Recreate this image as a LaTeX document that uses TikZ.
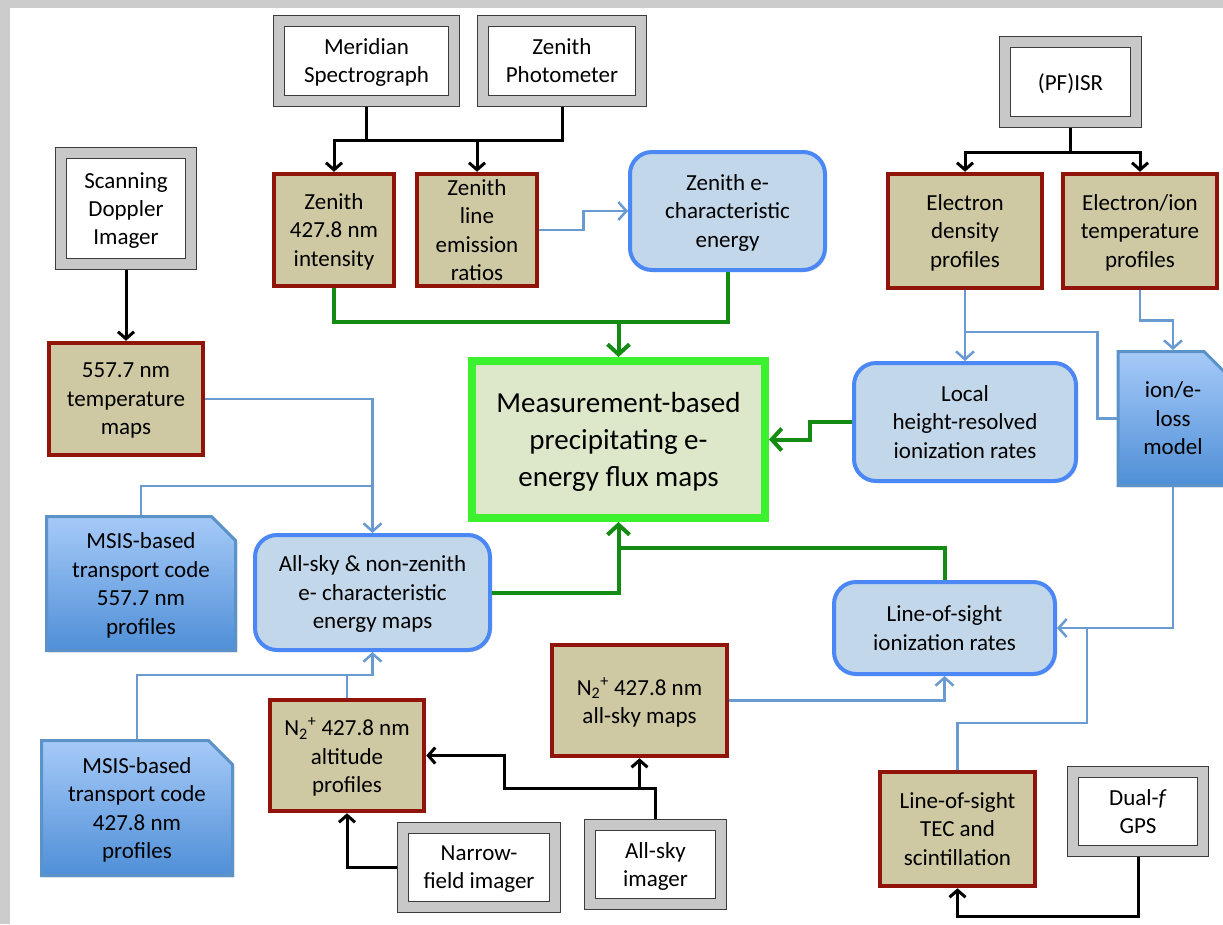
\documentclass[tikz,border=0pt]{standalone}
\usepackage{fontspec}
\setmainfont{Carlito}
\usepackage{xcolor}
\usepackage{tikz}
\usetikzlibrary{positioning,calc,arrows.meta,shapes.misc,shadows}

\definecolor{bandgray}{RGB}{204,204,204}
\definecolor{framegray}{RGB}{200,200,200}
\definecolor{frameline}{RGB}{60,60,60}
\definecolor{boxtan}{RGB}{206,201,163}
\definecolor{boxred}{RGB}{145,20,10}
\definecolor{estfill}{RGB}{195,215,234}
\definecolor{estline}{RGB}{75,135,245}
\definecolor{resfill}{RGB}{221,231,201}
\definecolor{resline}{RGB}{60,242,47}
\definecolor{flowgreen}{RGB}{20,140,20}
\definecolor{linkblue}{RGB}{105,155,210}
\definecolor{doctop}{RGB}{166,202,248}
\definecolor{docbot}{RGB}{79,143,215}
\definecolor{docline}{RGB}{91,147,201}

\newcommand{\ntwoplus}{N\textsubscript{2}\textsuperscript{+}}

\begin{document}
\begin{tikzpicture}[x=1pt,y=-1pt]

\tikzstyle{instr}=[draw=frameline, line width=1.2pt, double=framegray, double distance=10pt, fill=white, outer sep=6pt, align=center, text depth=0pt, font=\fontsize{23}{28}\selectfont]
\tikzstyle{datbox}=[rectangle, draw=boxred, line width=4.5pt, fill=boxtan, inner sep=1pt, align=center, text depth=0pt, font=\fontsize{23}{28.5}\selectfont, drop shadow={shadow xshift=2pt, shadow yshift=-2pt, opacity=0.2}]
\tikzstyle{derived}=[rectangle, rounded corners=22pt, draw=estline, line width=4pt, fill=estfill, inner sep=1pt, align=center, text depth=0pt, font=\fontsize{23}{28.5}\selectfont, drop shadow={shadow xshift=2pt, shadow yshift=-2pt, opacity=0.2}]
\tikzstyle{modeldoc}=[chamfered rectangle, chamfered rectangle corners=north east, chamfered rectangle xsep=12pt, chamfered rectangle ysep=12pt, draw=docline, line width=3pt, top color=doctop, bottom color=docbot, inner sep=1pt, align=center, text depth=0pt, font=\fontsize{23}{28.5}\selectfont, drop shadow={shadow xshift=2pt, shadow yshift=-2pt, opacity=0.2}]
\tikzstyle{result}=[rectangle, draw=resline, line width=8pt, fill=resfill, align=center, text depth=0pt, font=\fontsize{29}{37}\selectfont, drop shadow={shadow xshift=2pt, shadow yshift=-2pt, opacity=0.2}]
\tikzstyle{feed}=[->, >={Straight Barb[length=7pt,width=16pt]}, line width=3pt, black]
\tikzstyle{bluelink}=[->, >={Straight Barb[length=8pt,width=18pt]}, line width=2.5pt, linkblue]
\tikzstyle{greenflow}=[->, >={Straight Barb[length=10pt,width=22pt]}, line width=4pt, flowgreen]

%background
\useasboundingbox (0,0) rectangle (1223,924);
\fill[bandgray] (0,0) rectangle (1223,8);
\fill[bandgray] (0,0) rectangle (10,924);

%instruments
\node[instr, minimum width=175pt, minimum height=80pt] (msp) at (366.5,61) {Meridian\\Spectrograph};
\node[instr, minimum width=158pt, minimum height=80pt] (zph) at (562,61) {Zenith\\Photometer};
\node[instr, minimum width=130pt, minimum height=111pt] (sdi) at (126,208.5) {Scanning\\Doppler\\Imager};
\node[instr, minimum width=131pt, minimum height=80pt] (isr) at (1070.5,82) {(PF)ISR};
\node[instr, minimum width=152pt, minimum height=79pt] (nfi) at (479,867.5) {Narrow-\\field imager};
\node[instr, minimum width=131pt, minimum height=79pt] (asi) at (655.5,864.5) {All-sky\\imager};
\node[instr, minimum width=130pt, minimum height=79pt] (gps) at (1138,811.5) {Dual-\textit{f}\\GPS};

%measured data
\node[datbox, minimum width=120pt, minimum height=112pt] (zint) at (334,230) {Zenith\\427.8 nm\\intensity};
\node[datbox, minimum width=120pt, minimum height=112pt] (zrat) at (477,230) {Zenith\\line\\emission\\ratios};
\node[datbox, minimum width=154pt, minimum height=112pt] (tmap) at (126,399) {557.7 nm\\temperature\\maps};
\node[datbox, minimum width=154pt, minimum height=114pt] (eden) at (965,231) {Electron\\density\\profiles};
\node[datbox, minimum width=154pt, minimum height=114pt] (etemp) at (1140,231) {Electron/ion\\temperature\\profiles};
\node[datbox, minimum width=154pt, minimum height=111pt] (n2alt) at (347,755.5) {\ntwoplus{} 427.8 nm\\altitude\\profiles};
\node[datbox, minimum width=175pt, minimum height=111pt] (n2sky) at (639.5,700.5) {\ntwoplus{} 427.8 nm\\all-sky maps};
\node[datbox, minimum width=155pt, minimum height=114pt] (lostec) at (957.5,829) {Line-of-sight\\TEC and\\scintillation};

%derived quantities
\node[derived, minimum width=195pt, minimum height=118pt] (zchar) at (727.5,211) {Zenith e-\\characteristic\\energy};
\node[derived, minimum width=222pt, minimum height=118pt] (local) at (965,422) {Local\\height-resolved\\ionization rates};
\node[derived, minimum width=221pt, minimum height=92pt] (losion) at (944.5,628) {Line-of-sight\\ionization rates};
\node[derived, minimum width=235pt, minimum height=115pt] (allsky) at (372.5,592.5) {All-sky \& non-zenith\\e- characteristic\\energy maps};

%models
\node[modeldoc, minimum width=189pt, minimum height=134pt] (msis5) at (141,583.5) {MSIS-based\\transport code\\557.7 nm\\profiles};
\node[modeldoc, minimum width=191pt, minimum height=135pt] (msis4) at (137,808) {MSIS-based\\transport code\\427.8 nm\\profiles};
\node[modeldoc, minimum width=110pt, minimum height=134pt] (ionloss) at (1173,418.5) {ion/e-\\loss\\model};

%result
\node[result, minimum width=293pt, minimum height=157pt] (main) at (618.5,439.5) {Measurement-based\\precipitating e-\\energy flux maps};

%junctions
\coordinate (jmer) at (366.5,140);
\coordinate (jisr) at (1070.5,152);
\coordinate (jasi) at (655.5,788);
\coordinate (jasw) at (504,788);
\coordinate (jgps) at (1138,916);
\coordinate (jtmp) at (372.5,486);
\coordinate (jall) at (372.5,675);
\coordinate (jden) at (965,332);
\coordinate (jtec) at (1087,723);
\coordinate (jzen) at (618.5,322);
\coordinate (jbot) at (618.5,548);

%black arrows
\draw[feed] (msp.south) -- (jmer) -| (zint.north);
\draw[feed] (jmer) -| (zrat.north);
\draw[feed,-] (zph.south) |- (jmer);
\draw[feed] (sdi) -- (tmap);
\draw[feed] (isr.south) -- (jisr) -| (eden.north);
\draw[feed] (jisr) -| (etemp.north);
\draw[feed] (nfi.west) -| (n2alt.south);
\draw[feed] (asi.north) -- (jasi) -| (n2sky.south);
\draw[feed] (jasi) -- (jasw) |- (n2alt.east);
\draw[feed] (gps.south) -- (jgps) -| (lostec.south);

%blue arrows
\draw[bluelink] (zrat.east) -- ++(44,0) |- (zchar.west);
\draw[bluelink] (tmap.east) -| (allsky.north);
\draw[bluelink,-] (msis5.north) |- (jtmp);
\draw[bluelink] (msis4.north) |- (jall) -- (allsky.south);
\draw[bluelink,-] (n2alt.north) |- (jall);
\draw[bluelink] (eden.south) -- (local.north);
\draw[bluelink,-] (ionloss.west) -- ++(-19,0) |- (jden);
\draw[bluelink] (etemp.south) -- ++(0,30) -| (ionloss.north);
\draw[bluelink] (ionloss.south) |- (losion.east);
\draw[bluelink,-] (lostec.north) |- (jtec) -- (jtec |- losion.east);
\draw[bluelink] (n2sky.east) -| (losion.south);

%green arrows
\draw[greenflow] (zint.south) |- (jzen) -- (main.north);
\draw[greenflow,-] (zchar.south) |- (jzen);
\draw[greenflow] (local.west) -- ++(-42,0) |- (main.east);
\draw[greenflow] (allsky.east) -| (main.south);
\draw[greenflow,-] (losion.north) |- (jbot);
\end{tikzpicture}
\end{document}
